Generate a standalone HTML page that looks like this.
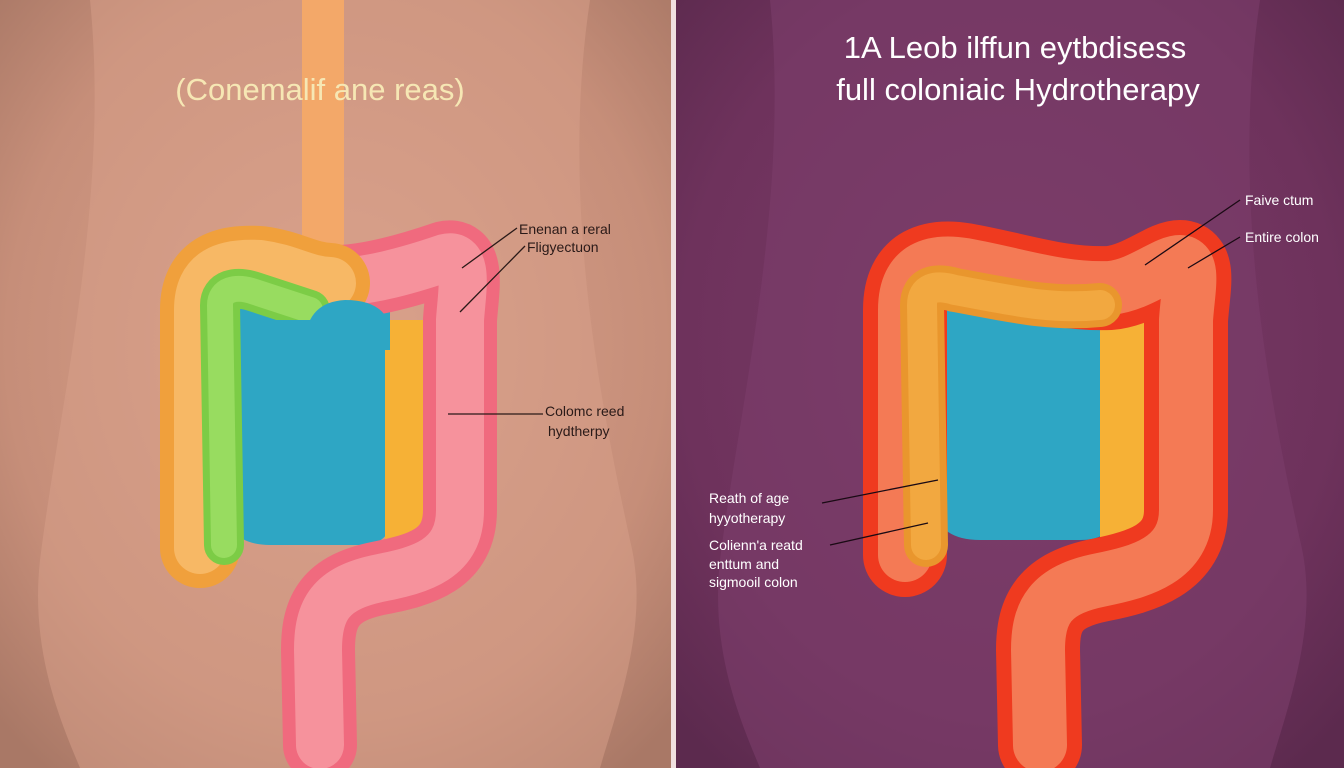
<!DOCTYPE html>
<html><head><meta charset="utf-8"><style>
html,body{margin:0;padding:0;width:1344px;height:768px;overflow:hidden;background:#000}
svg{display:block}
text{font-family:"Liberation Sans",sans-serif}
</style></head><body>
<svg width="1344" height="768" viewBox="0 0 1344 768">
<defs>
<radialGradient id="lbg" cx="0.5" cy="0.45" r="0.7"><stop offset="0" stop-color="#dba38d"/><stop offset="0.7" stop-color="#c68e79"/><stop offset="1" stop-color="#a97866"/></radialGradient>
<radialGradient id="rbg" cx="0.5" cy="0.45" r="0.7"><stop offset="0" stop-color="#7a3c68"/><stop offset="0.7" stop-color="#6e325c"/><stop offset="1" stop-color="#5c2a4e"/></radialGradient>
</defs>
<rect x="0" y="0" width="672" height="768" fill="url(#lbg)"/>
<rect x="676" y="0" width="668" height="768" fill="url(#rbg)"/>
<rect x="671" y="0" width="5" height="768" fill="#f0e0e0"/>
<path d="M90 0 C110 200 60 400 40 560 C30 650 60 720 80 768 L600 768 C620 700 650 620 630 540 C600 400 560 200 590 0Z" fill="#d8a08a" opacity="0.5"/>
<path d="M770 0 C790 200 740 400 720 560 C710 650 740 720 760 768 L1270 768 C1290 700 1320 620 1300 540 C1270 400 1230 200 1260 0Z" fill="#7c3e6a" opacity="0.6"/>
<rect x="302" y="0" width="42" height="280" fill="#f3a869"/>
<g stroke-linejoin="round" stroke-linecap="round" fill="none">
<!-- LEFT -->
<path d="M220 300 L390 300 L390 520 Q390 545 360 545 L270 545 Q225 545 222 500Z" fill="#2ea6c4" stroke="none"/>
<path d="M385 320 L432 320 L432 552 L385 552Z" fill="#f6b136" stroke="none"/>
<path d="M320 282 C360 285 410 270 445 258 C470 252 462 290 460 320 L460 510 C460 560 420 570 380 578 C330 588 318 610 318 650 L320 745" stroke="#f06a7e" stroke-width="74"/>
<path d="M320 282 C360 285 410 270 445 258 C470 252 462 290 460 320 L460 510 C460 560 420 570 380 578 C330 588 318 610 318 650 L320 745" stroke="#f6929c" stroke-width="48"/>
<path d="M200 548 L200 310 C200 272 225 264 260 266 C290 270 305 282 330 283" stroke="#f0a03c" stroke-width="80"/>
<path d="M200 548 L200 310 C200 272 225 264 260 266 C290 270 305 282 330 283" stroke="#f7b865" stroke-width="52"/>
<path d="M224 545 L220 305 C220 290 235 285 255 292 L310 310" stroke="#7ccc46" stroke-width="40"/>
<path d="M224 545 L220 305 C220 290 235 285 255 292 L310 310" stroke="#98dc60" stroke-width="26"/>
<path d="M305 340 Q308 302 345 300 Q382 300 390 325 L390 340Z" fill="#2ea6c4" stroke="none"/>
<rect x="242" y="320" width="148" height="30" fill="#2ea6c4" stroke="none"/>
<!-- RIGHT -->
<path d="M930 300 L1110 300 L1110 520 Q1110 540 1080 540 L980 540 Q935 540 932 500Z" fill="#2ea6c4" stroke="none"/>
<path d="M1100 300 L1155 300 L1155 555 L1100 555Z" fill="#f6b136" stroke="none"/>
<path d="M905 555 L905 310 C905 265 935 260 965 265 C1020 275 1060 290 1110 288 C1140 285 1165 262 1180 262 C1195 262 1188 290 1186 320 L1186 510 C1186 560 1140 572 1100 580 C1050 590 1038 612 1038 650 L1040 745" stroke="#ef3a1f" stroke-width="84"/>
<path d="M905 555 L905 310 C905 265 935 260 965 265 C1020 275 1060 290 1110 288 C1140 285 1165 262 1180 262 C1195 262 1188 290 1186 320 L1186 510 C1186 560 1140 572 1100 580 C1050 590 1038 612 1038 650 L1040 745" stroke="#f47a55" stroke-width="54"/>
<path d="M926 545 L922 305 C922 288 935 284 955 290 C1010 300 1050 310 1100 305" stroke="#e9962d" stroke-width="44"/>
<path d="M926 545 L922 305 C922 288 935 284 955 290 C1010 300 1050 310 1100 305" stroke="#f2a840" stroke-width="30"/>
</g>
<text x="320" y="100" text-anchor="middle" font-size="31" fill="#f6e7b4">(Conemalif ane reas)</text>
<text x="1015" y="58" text-anchor="middle" font-size="31" fill="#ffffff">1A Leob ilffun eytbdisess</text>
<text x="1018" y="100" text-anchor="middle" font-size="31" fill="#ffffff">full coloniaic Hydrotherapy</text>
<g font-size="14" fill="#2a1a18">
<text x="519" y="234">Enenan a reral</text>
<text x="527" y="252">Fligyectuon</text>
<text x="545" y="416">Colomc reed</text>
<text x="548" y="436">hydtherpy</text>
</g>
<g stroke="#2a1a18" stroke-width="1.3">
<line x1="517" y1="228" x2="462" y2="268"/>
<line x1="525" y1="246" x2="460" y2="312"/>
<line x1="543" y1="414" x2="448" y2="414"/>
</g>
<g font-size="14" fill="#ffffff">
<text x="1245" y="205">Faive ctum</text>
<text x="1245" y="242">Entire colon</text>
<text x="709" y="503">Reath of age</text>
<text x="709" y="523">hyyotherapy</text>
<text x="709" y="550">Colienn'a reatd</text>
<text x="709" y="569">enttum and</text>
<text x="709" y="587">sigmooil colon</text>
</g>
<g stroke="#1a0a14" stroke-width="1.3">
<line x1="1240" y1="200" x2="1145" y2="265"/>
<line x1="1240" y1="237" x2="1188" y2="268"/>
<line x1="822" y1="503" x2="938" y2="480"/>
<line x1="830" y1="545" x2="928" y2="523"/>
</g>
</svg>
</body></html>
